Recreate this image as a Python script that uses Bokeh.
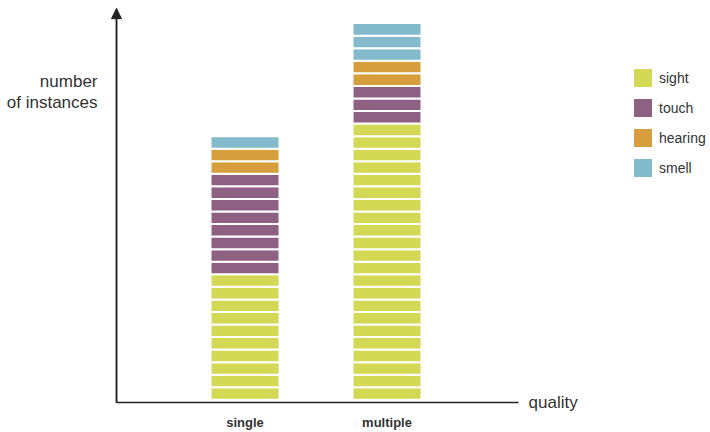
from bokeh.plotting import figure
from bokeh.models import (ColumnDataSource, Range1d, FixedTicker, Label, Legend,
                          LegendItem, Arrow, NormalHead)
from bokeh.embed import file_html
from bokeh.resources import INLINE

# ---- data ----
categories = ["single", "multiple"]
senses = ["sight", "touch", "hearing", "smell"]
sight = [10, 22]
touch = [8, 3]
hearing = [2, 2]
smell = [1, 3]
colors = ["#d4d955", "#8e6183", "#d69e3c", "#84bbcc"]
y_title = ["number", "of instances"]
x_title = "quality"

series = [sight, touch, hearing, smell]

W, H = 710, 432
X0, X1 = -1.722, 3.278          # data x range
Y0, Y1 = -2.60, 31.80           # data y range
AX_X = -0.905                   # where the y axis sits (data x)
AX_Y = -0.24                    # where the x axis sits (data y)
AX_XEND = 1.926                 # end of x axis line
AX_YEND = 31.15                 # tip of the y arrow

p = figure(width=W, height=H, output_backend="svg", toolbar_location=None,
           x_range=Range1d(X0, X1), y_range=Range1d(Y0, Y1),
           min_border_left=0, min_border_right=0, min_border_top=0,
           min_border_bottom=0)
p.outline_line_color = None
p.xgrid.visible = False
p.ygrid.visible = False
p.background_fill_color = "white"
p.border_fill_color = "white"

font = "Liberation Sans"
txt = "#333333"
axc = "#222222"

bar_w = 69 / 142.0
items = []
base = [0] * len(categories)
for name, vals, col in zip(senses, series, colors):
    xs, bottoms, tops = [], [], []
    for ci, v in enumerate(vals):
        for k in range(v):
            xs.append(ci)
            bottoms.append(base[ci] + k)
            tops.append(base[ci] + k + 1)
        base[ci] += v
    src = ColumnDataSource(dict(x=xs, bottom=bottoms, top=tops))
    r = p.vbar(x="x", bottom="bottom", top="top", width=bar_w, source=src,
               fill_color=col, line_color="white", line_width=2)
    items.append(LegendItem(label=name, renderers=[r]))

# x axis (categories)
xa = p.xaxis[0]
xa.fixed_location = AX_Y
xa.bounds = (AX_X, AX_XEND)
xa.ticker = FixedTicker(ticks=list(range(len(categories))))
xa.major_label_overrides = {i: c for i, c in enumerate(categories)}
xa.major_tick_line_color = None
xa.minor_tick_line_color = None
xa.axis_line_color = axc
xa.axis_line_width = 1.5
xa.major_label_text_font = font
xa.major_label_text_font_style = "bold"
xa.major_label_text_font_size = "13px"
xa.major_label_text_color = txt
xa.major_label_standoff = 6

# y axis (title lines as its labels)
y_pos = [25.36, 23.68]
ya = p.yaxis[0]
ya.fixed_location = AX_X
ya.bounds = (AX_Y, AX_YEND)
ya.ticker = FixedTicker(ticks=y_pos)
ya.major_label_overrides = {v: t for v, t in zip(y_pos, y_title)}
ya.major_tick_line_color = None
ya.minor_tick_line_color = None
ya.major_label_text_font = font
ya.major_label_text_font_size = "17px"
ya.major_label_text_color = txt
ya.major_label_standoff = 13
ya.axis_line_color = axc
ya.axis_line_width = 1.5

p.add_layout(Arrow(end=NormalHead(size=10, fill_color=axc, line_color=axc),
                   x_start=AX_X, y_start=AX_Y, x_end=AX_X, y_end=AX_YEND,
                   line_color=axc, line_width=1.5))

p.add_layout(Label(x=AX_XEND, y=AX_Y, x_offset=10, text=x_title, text_align="left",
                   text_baseline="middle", text_font=font, text_font_size="17px",
                   text_color=txt))

legend = Legend(items=items, location=(630, 252), glyph_width=25, glyph_height=25,
                spacing=5, label_standoff=4, padding=0, margin=0,
                border_line_color=None, background_fill_alpha=0,
                label_text_font=font, label_text_font_size="14px",
                label_text_color=txt)
p.add_layout(legend)

open("out.html", "w").write(file_html(p, INLINE))
